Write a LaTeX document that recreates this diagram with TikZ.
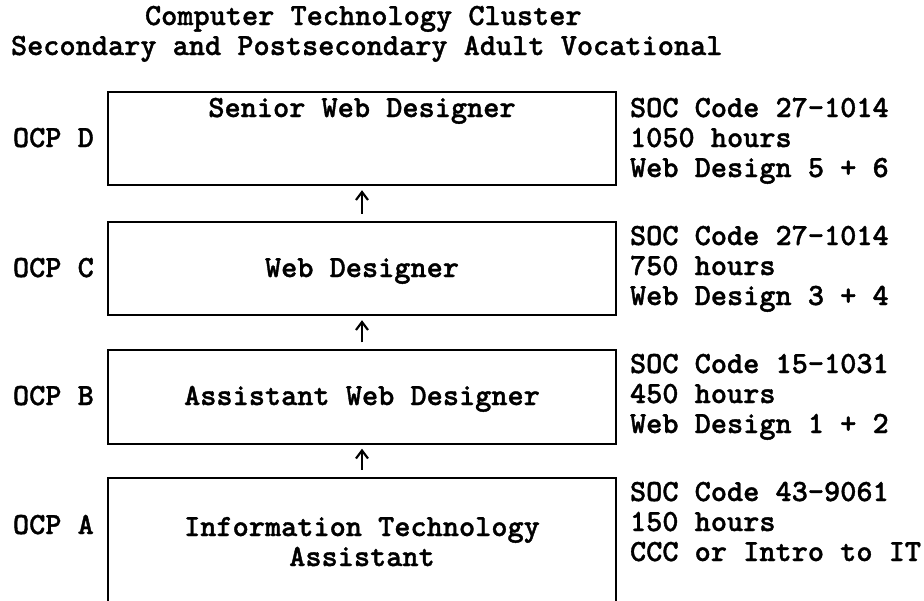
\documentclass[tikz,border=0pt]{standalone}
\usepackage{fontspec}
\newfontfamily\heavymono{lmmonolt10-bold.otf}[FakeBold=1.2]
\usetikzlibrary{arrows.meta,calc}
\tikzset{
  txt/.style={font=\heavymono\fontsize{23.1pt}{22.5pt}\selectfont, inner sep=0pt, outer sep=0pt},
  jobbox/.style={draw, line width=1.6pt, minimum width=381pt, minimum height=70pt, inner sep=0pt},
  uparrow/.style={line width=1.6pt, -{Straight Barb[length=6pt,width=9pt,line width=1.6pt]}},
  info/.style={txt, align=left, anchor=base west},
}
\begin{document}
\begin{tikzpicture}[x=0.75pt, y=-0.75pt]
\path[use as bounding box] (0,0) rectangle (924,600);
\clip (0,0) rectangle (924,600);

% headings
\node[txt, anchor=base west] (title1) at (145,25) {Computer Technology Cluster};
\node[txt, anchor=base west] (title2) at (11,55) {Secondary and Postsecondary Adult Vocational};

% occupation boxes
\node[jobbox] (boxD) at (362,138.5) {};
\node[jobbox] (boxC) at (362,268.5) {};
\node[jobbox] (boxB) at (362,397) {};
\node[jobbox, minimum height=105pt] (boxA) at (362,548) {};

% box titles
\node[txt, anchor=base] (tD) at (362,117) {Senior Web Designer};
\node[txt, anchor=base] (tC) at (362,277) {Web Designer};
\node[txt, anchor=base] (tB) at (362,405) {Assistant Web Designer};
\node[txt, anchor=base] (tA1) at (362,536) {Information Technology};
\node[txt, anchor=base] (tA2) at (362,566) {Assistant};

% program labels
\node[txt, anchor=base west] (ocpD) at (13,147) {OCP D};
\node[txt, anchor=base west] (ocpC) at (13,277) {OCP C};
\node[txt, anchor=base west] (ocpB) at (13,405) {OCP B};
\node[txt, anchor=base west] (ocpA) at (13,534) {OCP A};

% code, hours and courses (anchored on the last line)
\node[info] (iD) at (630,177) {SOC Code 27-1014\\1050 hours\\Web Design 5 + 6};
\node[info] (iC) at (630,305) {SOC Code 27-1014\\750 hours\\Web Design 3 + 4};
\node[info] (iB) at (630,433) {SOC Code 15-1031\\450 hours\\Web Design 1 + 2};
\node[info] (iA) at (630,561) {SOC Code 43-9061\\150 hours\\CCC or Intro to IT};

% progression arrows
\draw[uparrow] ($(boxC.north)+(0,-7)$) -- ($(boxD.south)+(0,4)$);
\draw[uparrow] ($(boxB.north)+(0,-7)$) -- ($(boxC.south)+(0,4)$);
\draw[uparrow] ($(boxA.north)+(0,-7)$) -- ($(boxB.south)+(0,4)$);
\end{tikzpicture}
\end{document}
